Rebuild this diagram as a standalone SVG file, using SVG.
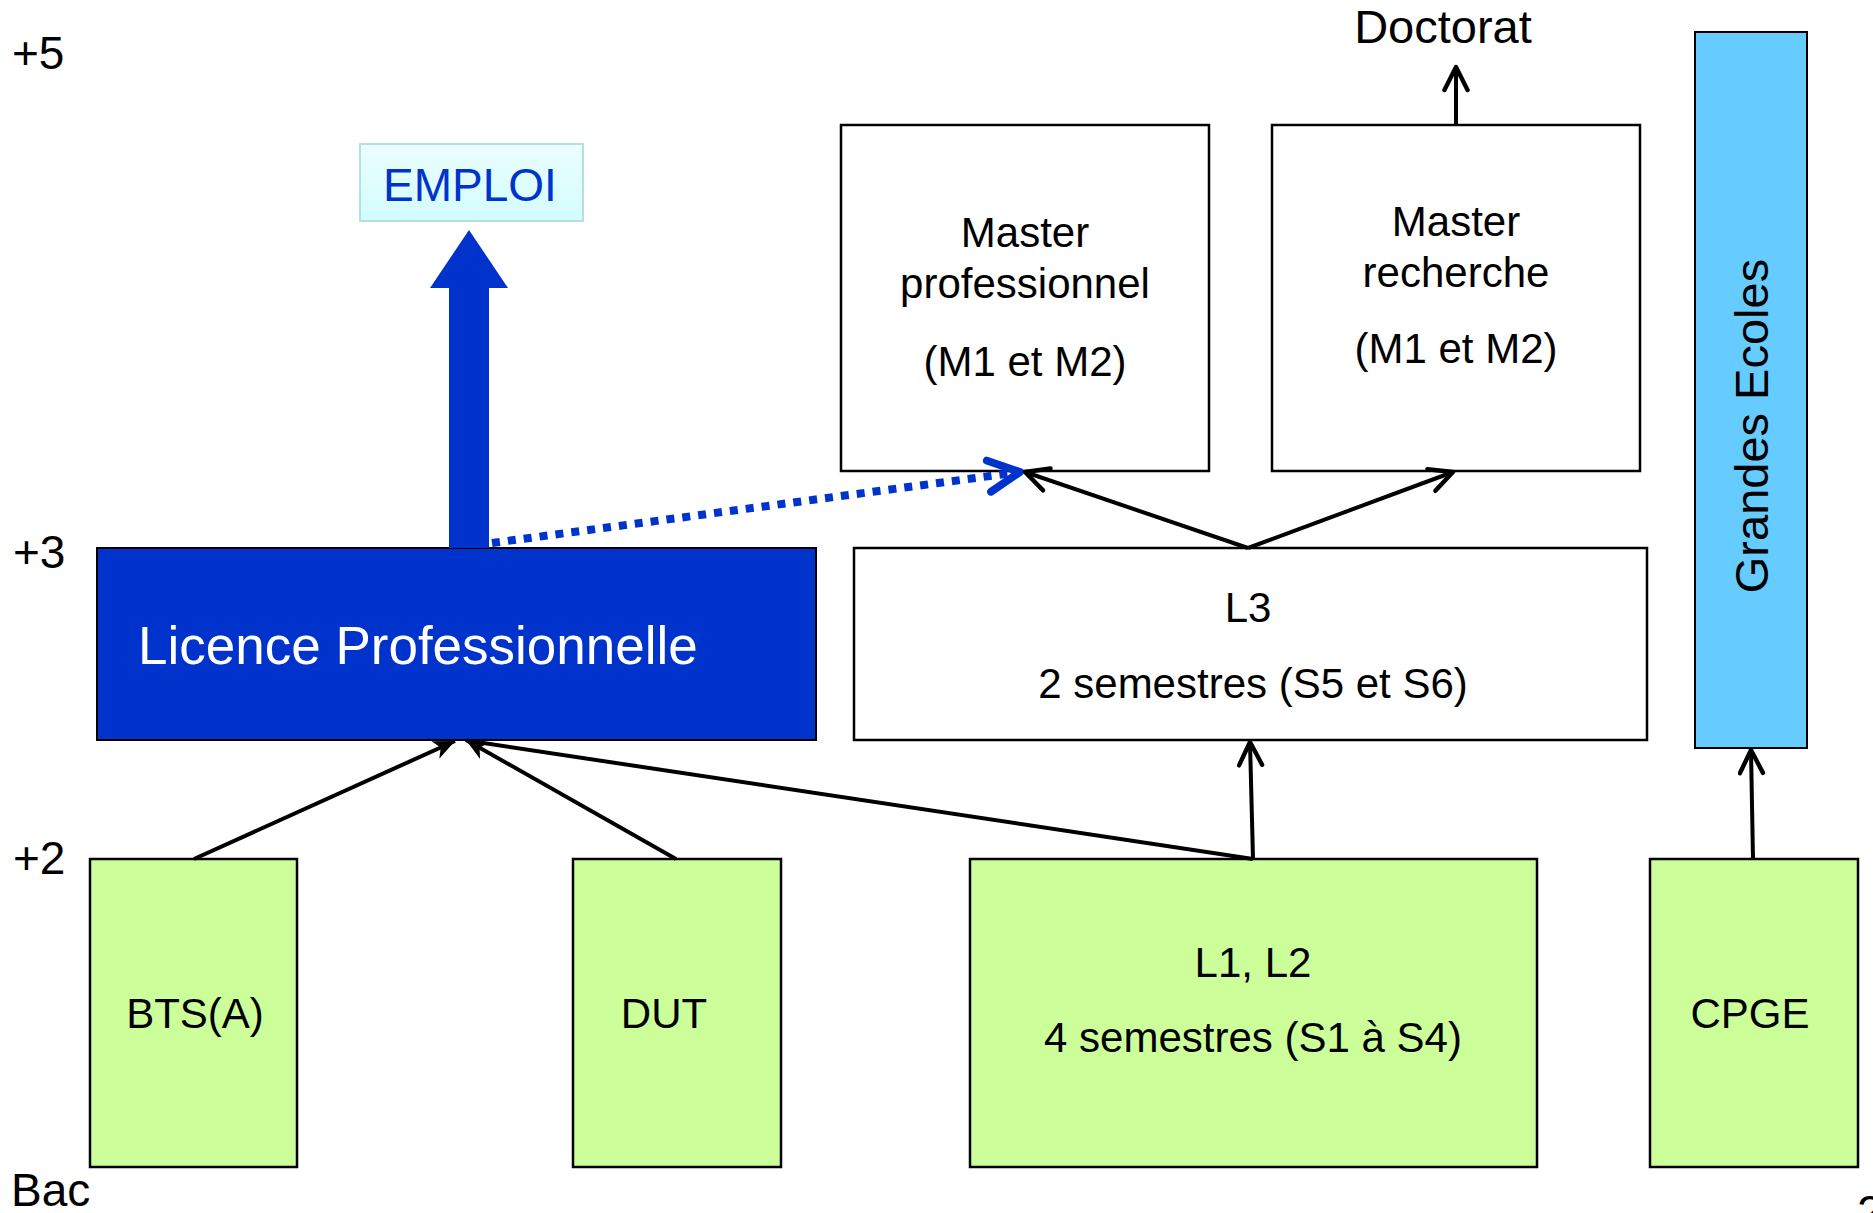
<svg xmlns="http://www.w3.org/2000/svg" width="1873" height="1213" viewBox="0 0 1873 1213">
<defs>
<style>
text{font-family:"Liberation Sans",Arial,sans-serif;fill:#000}
.lvl{font-size:46px}
.t42{font-size:42px;text-anchor:middle}
.box{stroke:#000;stroke-width:2.5}
.green{fill:#ccff99}
.white{fill:#fff}
.conn{stroke:#000;stroke-width:4;fill:none}
</style>
<linearGradient id="emg" x1="0" y1="0" x2="0" y2="1">
<stop offset="0" stop-color="#ecfefe"/>
<stop offset="1" stop-color="#d2fcfc"/>
</linearGradient>
<marker id="open" markerUnits="userSpaceOnUse" markerWidth="30" markerHeight="30" viewBox="-2 -2 26 26" refX="21" refY="10" orient="auto">
<path d="M1,0 L21,10 L1,20" fill="none" stroke="#000" stroke-width="3.8" stroke-linecap="round" stroke-linejoin="round"/>
</marker>
<marker id="stealth" markerUnits="userSpaceOnUse" markerWidth="24" markerHeight="24" viewBox="0 0 20 20" refX="18" refY="10" orient="auto">
<path d="M0,2 L18,10 L0,18 L5,10 Z" fill="#000"/>
</marker>
<marker id="blueopen" markerUnits="userSpaceOnUse" markerWidth="46" markerHeight="46" viewBox="-5 -5 44 44" refX="32" refY="15" orient="auto">
<path d="M2,0 L32,15 L2,30" fill="none" stroke="#0033cc" stroke-width="7.5" stroke-linecap="round" stroke-linejoin="round"/>
</marker>
</defs>
<rect width="1873" height="1213" fill="#fff"/>

<g id="levels">
<text class="lvl" x="12" y="69">+5</text>
<text class="lvl" x="13" y="568">+3</text>
<text class="lvl" x="13" y="874">+2</text>
<text class="lvl" x="11" y="1206">Bac</text>
<text class="lvl" x="1857" y="1228">2</text>
</g>

<g id="emploi">
<rect x="360" y="144" width="223" height="77" fill="url(#emg)" stroke="#b4e0e4" stroke-width="2"/>
<text x="470" y="201" font-size="46" text-anchor="middle" style="fill:#0033cc">EMPLOI</text>
</g>

<g id="doctorat">
<text x="1443" y="43" font-size="47" text-anchor="middle">Doctorat</text>
</g>

<g id="master-pro">
<rect class="box white" x="841" y="125" width="368" height="346"/>
<text class="t42" x="1025" y="247">Master</text>
<text class="t42" x="1025" y="298">professionnel</text>
<text class="t42" x="1025" y="376">(M1 et M2)</text>
</g>

<g id="master-recherche">
<rect class="box white" x="1272" y="125" width="368" height="346"/>
<text class="t42" x="1456" y="236">Master</text>
<text class="t42" x="1456" y="287">recherche</text>
<text class="t42" x="1456" y="363">(M1 et M2)</text>
</g>

<g id="grandes-ecoles">
<rect x="1695" y="32" width="112" height="716" fill="#66ccff" stroke="#000" stroke-width="2"/>
<text x="1768" y="426" font-size="47" text-anchor="middle" transform="rotate(-90 1768 426)">Grandes Ecoles</text>
</g>

<g id="licence-pro">
<rect x="97" y="548" width="719" height="192" fill="#0033cc" stroke="#000" stroke-width="2"/>
<text x="138" y="664" font-size="53" style="fill:#fff">Licence Professionnelle</text>
</g>

<g id="l3">
<rect class="box white" x="854" y="548" width="793" height="192"/>
<text class="t42" x="1248" y="622">L3</text>
<text class="t42" x="1253" y="698">2 semestres (S5 et S6)</text>
</g>

<g id="bts">
<rect class="box green" x="90" y="859" width="207" height="308"/>
<text class="t42" x="195" y="1028">BTS(A)</text>
</g>

<g id="dut">
<rect class="box green" x="573" y="859" width="208" height="308"/>
<text class="t42" x="664" y="1028">DUT</text>
</g>

<g id="l1l2">
<rect class="box green" x="970" y="859" width="567" height="308"/>
<text class="t42" x="1253" y="977">L1, L2</text>
<text class="t42" x="1253" y="1052">4 semestres (S1 à S4)</text>
</g>

<g id="cpge">
<rect class="box green" x="1650" y="859" width="208" height="308"/>
<text class="t42" x="1750" y="1028">CPGE</text>
</g>

<g id="connectors">
<polygon points="449,548 449,288 430,288 469,230 508,288 489,288 489,548" fill="#0033cc"/>
<line x1="492" y1="543" x2="1020" y2="472" stroke="#0033cc" stroke-width="8" stroke-dasharray="8 8" marker-end="url(#blueopen)"/>
<line class="conn" x1="1248" y1="548" x2="1025" y2="472" marker-end="url(#open)"/>
<line class="conn" x1="1248" y1="548" x2="1453" y2="472" marker-end="url(#open)"/>
<line class="conn" x1="1456" y1="124" x2="1456" y2="67" marker-end="url(#open)"/>
<line class="conn" x1="1253" y1="859" x2="1250" y2="742" marker-end="url(#open)"/>
<line class="conn" x1="1753" y1="859" x2="1751" y2="750" marker-end="url(#open)"/>
<line class="conn" x1="194" y1="859" x2="455" y2="741" marker-end="url(#stealth)"/>
<line class="conn" x1="676" y1="859" x2="466" y2="740" marker-end="url(#stealth)"/>
<line class="conn" x1="1253" y1="859" x2="470" y2="741"/>
</g>
</svg>
